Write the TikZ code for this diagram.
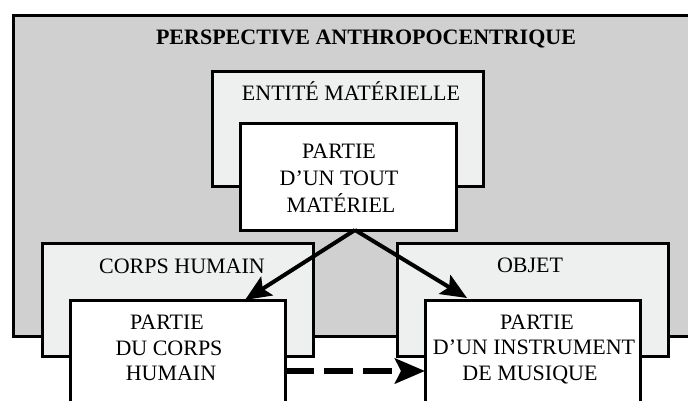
\documentclass[tikz,border=0pt]{standalone}
\usepackage{fontspec}
\setmainfont{Liberation Serif}
\usetikzlibrary{arrows.meta}
\definecolor{outergray}{RGB}{208,208,208}
\definecolor{paleback}{RGB}{238,239,239}
\begin{document}
\begin{tikzpicture}[x=1pt,y=-1pt,
  box/.style={draw=black,line width=3pt,anchor=north west,inner sep=0pt,outer sep=0pt},
  graybox/.style={box,fill=outergray},
  palebox/.style={box,fill=paleback},
  whitebox/.style={box,fill=white},
  lbl/.style={anchor=base,inner sep=0pt,font=\fontsize{22}{26}\selectfont},
  title/.style={lbl,font=\fontsize{22}{26}\selectfont\bfseries},
  link/.style={line width=4pt,-{Stealth[length=26pt,width=22pt,inset=5pt]}},
  dlink/.style={line width=6pt,dash pattern=on 29pt off 10pt,-{Stealth[length=30pt,width=25pt,inset=6pt]}}]
\useasboundingbox (0,0) rectangle (688,401);
\clip (0,0) rectangle (688,401);
\fill[white] (0,0) rectangle (688,401);
% boxes
\node[graybox,minimum width=687pt,minimum height=320pt] (outer) at (13,16) {};
\node[palebox,minimum width=271pt,minimum height=114pt] (entite) at (212,72) {};
\node[whitebox,minimum width=216pt,minimum height=106pt] (tout) at (240,124) {};
\node[palebox,minimum width=271pt,minimum height=113pt] (corps) at (42,243) {};
\node[palebox,minimum width=271pt,minimum height=113pt] (objet) at (397,243) {};
\node[whitebox,minimum width=215pt,minimum height=110pt] (partcorps) at (70,300) {};
\node[whitebox,minimum width=215pt,minimum height=110pt] (partinst) at (425,300) {};
% texts
\node[title] (ttitle) at (366,45) {PERSPECTIVE ANTHROPOCENTRIQUE};
\node[lbl] (tentite) at (351,101) {ENTITÉ MATÉRIELLE};
\node[lbl] (ttout1) at (339,158) {PARTIE};
\node[lbl] (ttout2) at (339,185) {D’UN TOUT};
\node[lbl] (ttout3) at (341,212) {MATÉRIEL};
\node[lbl] (tcorps) at (182,273) {CORPS HUMAIN};
\node[lbl] (tpc1) at (167,329) {PARTIE};
\node[lbl] (tpc2) at (169,355) {DU CORPS};
\node[lbl] (tpc3) at (171,380) {HUMAIN};
\node[lbl] (tobjet) at (530,272) {OBJET};
\node[lbl] (tpi1) at (537,329) {PARTIE};
\node[lbl] (tpi2) at (534,354) {D’UN INSTRUMENT};
\node[lbl] (tpi3) at (530,380) {DE MUSIQUE};
% connectors
\coordinate (src) at (355,230);
\coordinate (tgtcorps) at (245,300);
\coordinate (tgtinst) at (467,298);
\draw[link] (src) -- (tgtcorps);
\draw[link] (src) -- (tgtinst);
\draw[dlink] (partcorps.east |- 0,371) -- (partinst.west |- 0,371);
\end{tikzpicture}
\end{document}
